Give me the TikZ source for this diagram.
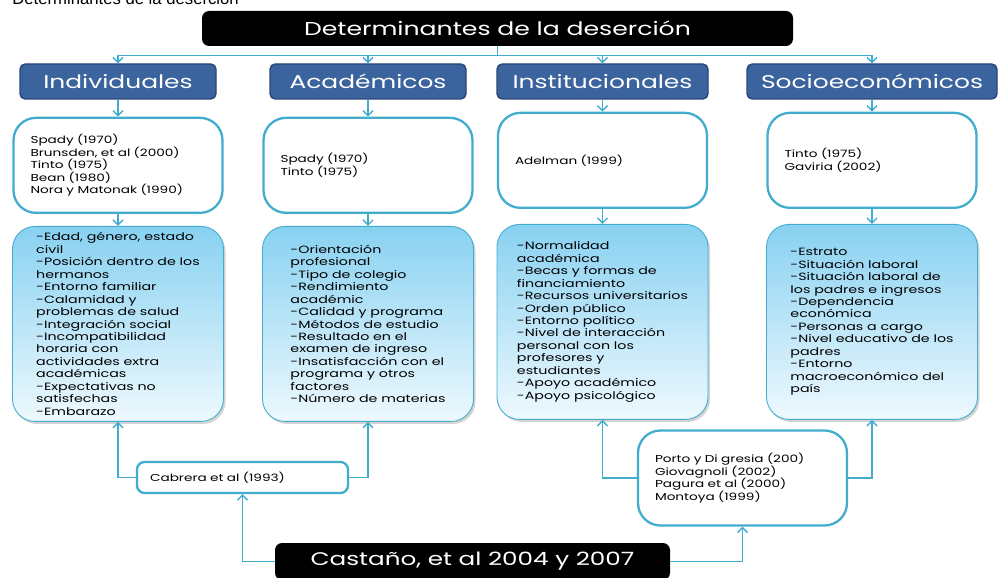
\documentclass[tikz,border=0pt]{standalone}
\usepackage{fontspec}
\setmainfont{Poppins}[FakeStretch=1.35]
\newfontfamily\capfont{Liberation Sans}
\usepackage{xcolor}
\usetikzlibrary{positioning, arrows.meta, shadows}

\definecolor{catblue}{RGB}{59,99,158}
\definecolor{catedge}{RGB}{40,70,118}
\definecolor{linkcyan}{RGB}{66,172,206}
\definecolor{skytop}{RGB}{136,209,241}
\definecolor{skybot}{RGB}{238,249,254}

\begin{document}
\begin{tikzpicture}[
			font=\fontsize{6}{7.1}\selectfont,
			heading/.style={rectangle, fill=black, text=white, rounded corners=4pt, font=\fontsize{10.6}{13}\selectfont},
			category/.style={rectangle, draw=catedge, fill=catblue, text=white, line width=0.8pt, rounded corners=3pt, minimum width=3.92cm, minimum height=0.7cm, font=\fontsize{10.5}{13}\selectfont},
			source/.style={rectangle, draw=linkcyan, line width=1.3pt, fill=white, rounded corners=0.45cm, text width=3.5cm, inner xsep=0.34cm, minimum height=1.9cm, align=left, font=\fontsize{5.75}{7.1}\selectfont},
			factor/.style={rectangle, draw=linkcyan, line width=0.5pt, top color=skytop, bottom color=skybot, rounded corners=0.45cm, minimum width=4.22cm, minimum height=3.9cm, align=left, drop shadow={shadow xshift=0.04cm, shadow yshift=-0.05cm, opacity=0.35}},
			link/.style={draw=linkcyan, line width=0.8pt, -{Straight Barb[length=1mm, width=2mm]}}
			]
			\useasboundingbox (0,0) rectangle (20,11.54);
			
			% Nodes
			\node[anchor=base west, inner sep=0pt, font=\capfont\fontsize{9.5}{11}\selectfont] (caption) at (0.24,11.44) {Determinantes de la deserción};
			\node[heading, minimum width=11.82cm, minimum height=0.7cm] (title) at (9.95,10.97) {Determinantes de la deserción};
			
			\node[category] (ind) at (2.36,9.91) {Individuales};
			\node[category] (aca) at (7.36,9.91) {Académicos};
			\node[category, minimum width=4.22cm] (ins) at (12.05,9.91) {Institucionales};
			\node[category, minimum width=5.0cm] (soc) at (17.44,9.91) {Socioeconómicos};
			
			\node[source, below=0.34cm of ind] (indr) {Spady (1970)\\Brunsden, et al (2000)\\Tinto (1975)\\Bean (1980)\\Nora y Matonak (1990)};
			\node[source, below=0.34cm of aca] (acar) {Spady (1970)\\Tinto (1975)};
			\node[source, below=0.24cm of ins] (insr) {Adelman (1999)};
			\node[source, below=0.24cm of soc] (socr) {Tinto (1975)\\Gaviria (2002)};
			
			\node[factor, below=0.24cm of indr] (indd) {-Edad, género, estado\\civil\\-Posición dentro de los\\hermanos\\-Entorno familiar\\-Calamidad y\\problemas de salud\\-Integración social\\-Incompatibilidad\\horaria con\\actividades extra\\académicas\\-Expectativas no\\satisfechas\\-Embarazo};
			\node[factor, below=0.24cm of acar] (acad) {-Orientación\\profesional\\-Tipo de colegio\\-Rendimiento\\académic\\-Calidad y programa\\-Métodos de estudio\\-Resultado en el\\examen de ingreso\\-Insatisfacción con el\\programa y otros\\factores\\-Número de materias};
			\node[factor, below=0.3cm of insr] (insd) {-Normalidad\\académica\\-Becas y formas de\\financiamiento\\-Recursos universitarios\\-Orden público\\-Entorno político\\-Nivel de interacción\\personal con los\\profesores y\\estudiantes\\-Apoyo académico\\-Apoyo psicológico};
			\node[factor, below=0.3cm of socr] (socd) {-Estrato\\-Situación laboral\\-Situación laboral de\\los padres e ingresos\\-Dependencia\\económica\\-Personas a cargo\\-Nivel educativo de los\\padres\\-Entorno\\macroeconómico del\\país};
			
			\node[source, text width=3.7cm, inner xsep=0.26cm, minimum height=0.62cm, rounded corners=0.15cm] (cab) at (4.85,1.99) {Cabrera et al (1993)};
			\node[source] (porto) at (14.85,1.98) {Porto y Di gresia (200)\\Giovagnoli (2002)\\Pagura et al (2000)\\Montoya (1999)};
			\node[heading, minimum width=7.9cm, minimum height=0.74cm, font=\fontsize{10.4}{13}\selectfont] (cas) at (9.45,0.31) {Castaño, et al 2004 y 2007};
			
			% Arrows
			\draw[link] (title.south) -- ++(0,-0.18) -| (ind.north);
			\draw[link] (title.south) -- ++(0,-0.18) -| (aca.north);
			\draw[link] (title.south) -- ++(0,-0.18) -| (ins.north);
			\draw[link] (title.south) -- ++(0,-0.18) -| (soc.north);
			
			\draw[link] (ind) -- (indr);
			\draw[link] (aca) -- (acar);
			\draw[link] (ins) -- (insr);
			\draw[link] (soc) -- (socr);
			
			\draw[link] (indr) -- (indd);
			\draw[link] (acar) -- (acad);
			\draw[link] (insr) -- (insd);
			\draw[link] (socr) -- (socd);
			
			\draw[link] (cab.west) -| (indd.south);
			\draw[link] (cab.east) -| (acad.south);
			\draw[link] (cas.west) -| (cab.south);
			\draw[link] (cas.east) -| (porto.south);
			\draw[link] (porto.west) -| (insd.south);
			\draw[link] (porto.east) -| (socd.south);
			
		\end{tikzpicture}
\end{document}
